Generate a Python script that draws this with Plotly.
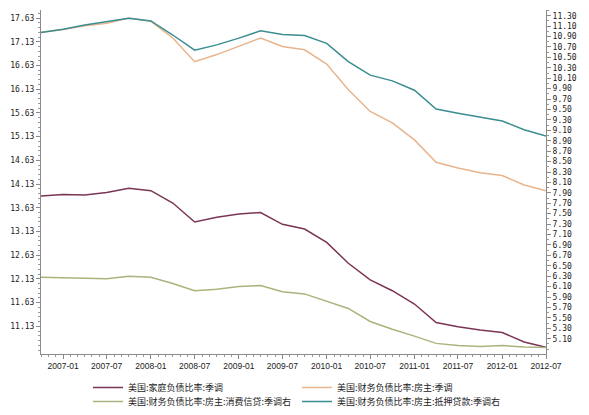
import plotly.graph_objects as go

dates = ["2006-10-01", "2007-01-01", "2007-04-01", "2007-07-01", "2007-10-01",
         "2008-01-01", "2008-04-01", "2008-07-01", "2008-10-01", "2009-01-01",
         "2009-04-01", "2009-07-01", "2009-10-01", "2010-01-01", "2010-04-01",
         "2010-07-01", "2010-10-01", "2011-01-01", "2011-04-01", "2011-07-01",
         "2011-10-01", "2012-01-01", "2012-04-01", "2012-07-01"]

household_dsr = [13.88, 13.91, 13.90, 13.95, 14.04, 13.99, 13.73, 13.33, 13.43, 13.50,
                 13.53, 13.28, 13.18, 12.90, 12.46, 12.11, 11.88, 11.60, 11.21, 11.12,
                 11.05, 11.00, 10.80, 10.69]

homeowner_for = [17.33, 17.39, 17.47, 17.52, 17.63, 17.56, 17.21, 16.71, 16.86, 17.03,
                 17.21, 17.03, 16.96, 16.66, 16.12, 15.66, 15.42, 15.06, 14.59, 14.47,
                 14.37, 14.31, 14.11, 13.99]

homeowner_consumer = [6.28, 6.27, 6.25, 6.25, 6.30, 6.28, 6.16, 6.02, 6.05, 6.10,
                      6.12, 6.00, 5.96, 5.82, 5.68, 5.43, 5.28, 5.15, 5.01, 4.97,
                      4.95, 4.97, 4.94, 4.93]

homeowner_mortgage = [10.98, 11.04, 11.12, 11.18, 11.25, 11.20, 10.93, 10.64, 10.74, 10.87,
                      11.01, 10.94, 10.92, 10.77, 10.42, 10.16, 10.05, 9.87, 9.51, 9.43,
                      9.36, 9.28, 9.11, 8.99]

left_ticks = [11.13, 11.63, 12.13, 12.63, 13.13, 13.63, 14.13, 14.63, 15.13, 15.63,
              16.13, 16.63, 17.13, 17.63]
right_ticks = [5.10, 5.30, 5.50, 5.70, 5.90, 6.10, 6.30, 6.50, 6.70, 6.90, 7.10, 7.30,
               7.50, 7.70, 7.90, 8.10, 8.30, 8.50, 8.70, 8.90, 9.10, 9.30, 9.50, 9.70,
               9.90, 10.10, 10.30, 10.50, 10.70, 10.90, 11.10, 11.30]

names = ["美国:家庭负债比率:季调", "美国:财务负债比率:房主:季调",
         "美国:财务负债比率:房主:消费信贷:季调右", "美国:财务负债比率:房主:抵押贷款:季调右"]
colors = ["#7b3556", "#e8b48c", "#a9b47c", "#3a8d91"]

CJK = "Noto Sans CJK SC"
MONO = "DejaVu Sans Mono"

# The page body has an 8px margin, so the figure is sized/offset to compensate.
W, H = 581, 399

fig = go.Figure()
fig.add_trace(go.Scatter(x=dates, y=household_dsr, name=names[0], mode="lines",
                         line=dict(color=colors[0], width=1.5), yaxis="y", legend="legend"))
fig.add_trace(go.Scatter(x=dates, y=homeowner_for, name=names[1], mode="lines",
                         line=dict(color=colors[1], width=1.5), yaxis="y", legend="legend"))
fig.add_trace(go.Scatter(x=dates, y=homeowner_consumer, name=names[2], mode="lines",
                         line=dict(color=colors[2], width=1.5), yaxis="y2", legend="legend2"))
fig.add_trace(go.Scatter(x=dates, y=homeowner_mortgage, name=names[3], mode="lines",
                         line=dict(color=colors[3], width=1.5), yaxis="y2", legend="legend2"))

axis_common = dict(showgrid=False, zeroline=False, showline=True, linecolor="#8a8a8a",
                   linewidth=1, ticks="outside", ticklen=4, tickcolor="#8a8a8a")
minor_common = dict(ticklen=2, tickcolor="#9a9a9a", ticks="outside")

legend_common = dict(orientation="h", xref="container", yref="container",
                     x=0.1377, xanchor="left", yanchor="middle",
                     entrywidth=164, entrywidthmode="pixels",
                     font=dict(family=CJK, size=9, color="#222"),
                     bgcolor="rgba(0,0,0,0)")

fig.update_layout(
    width=W, height=H,
    margin=dict(l=31, r=43, t=2, b=53),
    paper_bgcolor="white", plot_bgcolor="white",
    font=dict(family=CJK, size=9, color="#222"),
    xaxis=dict(type="date", range=["2006-10-01", "2012-07-01"],
               tick0="2007-01-01", dtick="M6", tickformat="%Y-%m",
               tickfont=dict(family="Liberation Sans", size=8.5, color="#222"),
               minor=dict(dtick="M1", tick0="2007-01-01", **minor_common),
               **axis_common),
    yaxis=dict(range=[10.55, 17.80], tickvals=left_ticks,
               ticktext=[f"{v:.2f}" for v in left_ticks],
               tickfont=dict(family=MONO, size=8, color="#222"),
               minor=dict(tick0=11.13, dtick=0.1, **minor_common),
               **axis_common),
    yaxis2=dict(range=[4.81, 11.41], tickvals=right_ticks,
                ticktext=[f"{v:.2f}" for v in right_ticks],
                tickfont=dict(family=MONO, size=8, color="#222"),
                overlaying="y", side="right",
                minor=dict(tick0=5.0, dtick=0.1, **minor_common),
                **axis_common),
    legend=dict(y=1 - 379.5 / H, **legend_common),
    legend2=dict(y=1 - 393.5 / H, **legend_common),
)

fig.write_html("out.html")
